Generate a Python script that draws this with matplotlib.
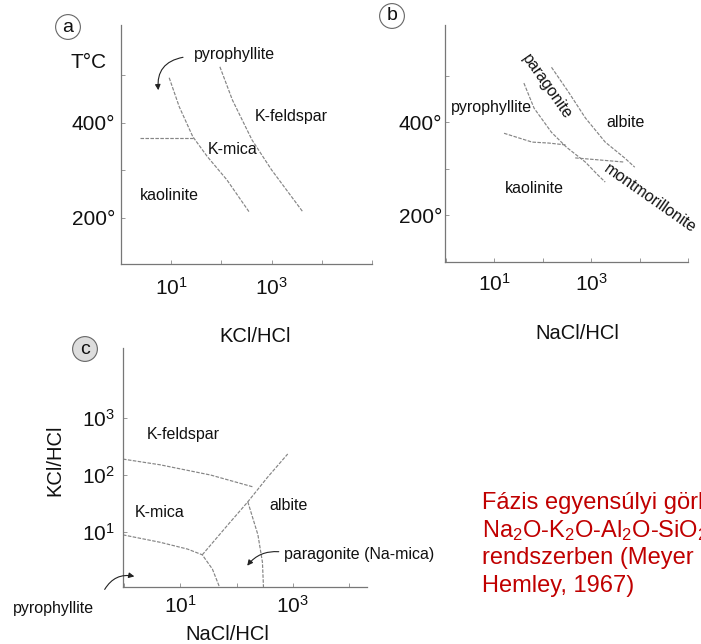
import numpy as np
import matplotlib
matplotlib.use("Agg")
import matplotlib.pyplot as plt

plt.rcParams['font.family'] = ['Liberation Sans', 'DejaVu Sans']
plt.rcParams['mathtext.fontset'] = 'custom'
plt.rcParams['mathtext.rm'] = 'Liberation Sans'
plt.rcParams['mathtext.it'] = 'Liberation Sans:italic'
plt.rcParams['mathtext.bf'] = 'Liberation Sans:bold'

# --- data (x values are log10 of the ratio) ---
# panel a: T (°C) vs KCl/HCl
a_kao_pyr_logx = [0.38, 1.43]
a_kao_pyr_t = [368, 368]
a_pyr_kmica_logx = [0.96, 1.16, 1.43, 1.72, 2.11, 2.55]
a_pyr_kmica_t = [495, 434, 371, 329, 280, 213]
a_kmica_kfs_logx = [1.97, 2.22, 2.61, 3.00, 3.62]
a_kmica_kfs_t = [518, 448, 364, 301, 213]

# panel b: T (°C) vs NaCl/HCl
b_kao_pyr_logx = [1.20, 1.78, 2.12, 2.47]
b_kao_pyr_t = [376, 357, 355, 351]
b_pyr_par_logx = [1.61, 1.82, 2.18, 2.49, 2.88, 3.14, 3.29]
b_pyr_par_t = [484, 430, 378, 346, 314, 286, 271]
b_par_alb_logx = [2.18, 2.53, 2.88, 3.29, 3.69, 3.90]
b_par_alb_t = [518, 465, 409, 357, 323, 303]
b_mont_logx = [2.67, 3.69]
b_mont_t = [323, 314]

# panel c: log KCl/HCl vs log NaCl/HCl
c_kfs_kmica_logx = [-0.02, 0.64, 1.54, 2.30]
c_kfs_kmica_logy = [2.28, 2.18, 2.00, 1.79]
c_kmica_pyr_logx = [-0.02, 0.64, 1.13, 1.39, 1.57, 1.71]
c_kmica_pyr_logy = [0.95, 0.82, 0.70, 0.60, 0.35, 0.0]
c_k_na_logx = [1.39, 1.84, 2.20, 2.55, 2.91]
c_k_na_logy = [0.60, 1.12, 1.53, 1.96, 2.37]
c_par_alb_logx = [2.20, 2.38, 2.46, 2.48]
c_par_alb_logy = [1.53, 0.95, 0.47, 0.0]

temp_ticks = [200, 300, 400, 500]
temp_labels = ['200°', '', '400°', '']
ratio_ticks = [1, 10, 100, 1000, 10000, 100000]
ratio_labels = ['', '$10^{1}$', '', '$10^{3}$', '', '']
kcl_ticks = [10, 100, 1000]
kcl_labels = ['$10^{1}$', '$10^{2}$', '$10^{3}$']

caption = ['Fázis egyensúlyi görbék',
           'Na$_2$O-K$_2$O-Al$_2$O-SiO$_2$',
           'rendszerben (Meyer',
           'Hemley, 1967)']

W, H = 701, 644
fig = plt.figure(figsize=(W / 100, H / 100), dpi=100)

def px_axes(left, top, right, bottom):
    return fig.add_axes([left / W, 1 - bottom / H, (right - left) / W, (bottom - top) / H])

txt = '#111111'
line_kw = dict(color='#858585', lw=0.85, ls=(0, (3, 1.2)))

def style(ax):
    for s in ['top', 'right']:
        ax.spines[s].set_visible(False)
    for s in ['left', 'bottom']:
        ax.spines[s].set_color('#777777')
        ax.spines[s].set_linewidth(0.9)
    ax.tick_params(which='major', direction='in', length=3, width=0.6,
                   color='#888888', labelsize=15, labelcolor=txt)
    ax.tick_params(which='minor', length=0)
    ax.set_facecolor('none')

def lx(v):
    return 10 ** np.array(v)

# ---- panel a ----
ax = px_axes(121, 25, 372, 264)
style(ax)
ax.set_xscale('log')
ax.set_xlim(10 ** 0.05, 10 ** 4.92)
ax.set_ylim(103, 606)
ax.plot(lx(a_kao_pyr_logx), a_kao_pyr_t, **line_kw)
ax.plot(lx(a_pyr_kmica_logx), a_pyr_kmica_t, **line_kw)
ax.plot(lx(a_kmica_kfs_logx), a_kmica_kfs_t, **line_kw)
ax.set_xticks(ratio_ticks, ratio_labels)
ax.set_yticks(temp_ticks, temp_labels)
ax.tick_params(axis='x', pad=9)
ax.tick_params(axis='y', pad=4)
ax.set_xlabel('KCl/HCl', fontsize=14.5, color=txt)
ax.xaxis.set_label_coords(0.534, -0.262)
ax.text(10 ** 2.26, 543, 'pyrophyllite', fontsize=11.5, ha='center', va='center', color=txt)
ax.text(10 ** 3.39, 413, 'K-feldspar', fontsize=11.5, ha='center', va='center', color=txt)
ax.text(10 ** 2.22, 343, 'K-mica', fontsize=11.5, ha='center', va='center', color=txt)
ax.text(10 ** 0.96, 248, 'kaolinite', fontsize=11.5, ha='center', va='center', color=txt)
ax.text(-0.13, 0.845, 'T°C', transform=ax.transAxes, fontsize=15, ha='center',
        va='center', color=txt)
ax.annotate('', xy=(10 ** 0.75, 463), xytext=(10 ** 1.29, 539),
            arrowprops=dict(arrowstyle='-|>', color='#222222', lw=0.8,
                            mutation_scale=8, connectionstyle='arc3,rad=0.5'))

# ---- panel b ----
ax = px_axes(445, 25, 688, 262)
style(ax)
ax.set_xscale('log')
ax.set_xlim(10 ** -0.02, 10 ** 4.94)
ax.set_ylim(99, 609)
ax.plot(lx(b_kao_pyr_logx), b_kao_pyr_t, **line_kw)
ax.plot(lx(b_pyr_par_logx), b_pyr_par_t, **line_kw)
ax.plot(lx(b_par_alb_logx), b_par_alb_t, **line_kw)
ax.plot(lx(b_mont_logx), b_mont_t, **line_kw)
ax.set_xticks(ratio_ticks, ratio_labels)
ax.set_yticks(temp_ticks, temp_labels)
ax.tick_params(axis='x', pad=8)
ax.tick_params(axis='y', pad=2)
ax.set_xlabel('NaCl/HCl', fontsize=14.5, color=txt)
ax.xaxis.set_label_coords(0.543, -0.262)
ax.text(10 ** 2.08, 477, 'paragonite', fontsize=11.5, ha='center', va='center',
        rotation=-55, rotation_mode='anchor', color=txt)
ax.text(10 ** 0.94, 432, 'pyrophyllite', fontsize=11.5, ha='center', va='center', color=txt)
ax.text(10 ** 3.71, 400, 'albite', fontsize=11.5, ha='center', va='center', color=txt)
ax.text(10 ** 1.82, 258, 'kaolinite', fontsize=11.5, ha='center', va='center', color=txt)
ax.text(10 ** 4.22, 236, 'montmorillonite', fontsize=11.5, ha='center', va='center',
        rotation=-35, rotation_mode='anchor', color=txt, clip_on=False)

# ---- panel c ----
ax = px_axes(123, 348, 367, 587)
style(ax)
ax.set_xscale('log')
ax.set_yscale('log')
ax.set_xlim(10 ** -0.02, 10 ** 4.32)
ax.set_ylim(10 ** 0.035, 10 ** 4.23)
ax.plot(lx(c_kfs_kmica_logx), lx(c_kfs_kmica_logy), **line_kw)
ax.plot(lx(c_kmica_pyr_logx), lx(c_kmica_pyr_logy), **line_kw)
ax.plot(lx(c_k_na_logx), lx(c_k_na_logy), **line_kw)
ax.plot(lx(c_par_alb_logx), lx(c_par_alb_logy), **line_kw)
ax.set_xticks(ratio_ticks[:5], ratio_labels[:5])
ax.set_yticks(kcl_ticks, kcl_labels)
ax.tick_params(axis='x', pad=6)
ax.tick_params(axis='y', pad=6)
ax.set_xlabel('NaCl/HCl', fontsize=14.5, color=txt)
ax.xaxis.set_label_coords(0.426, -0.157)
ax.set_ylabel('KCl/HCl', fontsize=14.5, color=txt)
ax.yaxis.set_label_coords(-0.242, 0.53)
ax.text(10 ** 1.05, 10 ** 2.72, 'K-feldspar', fontsize=11.5, ha='center', va='center', color=txt)
ax.text(10 ** 0.64, 10 ** 1.35, 'K-mica', fontsize=11.5, ha='center', va='center', color=txt)
ax.text(10 ** 2.93, 10 ** 1.47, 'albite', fontsize=11.5, ha='center', va='center', color=txt)
ax.text(10 ** 2.84, 10 ** 0.61, 'paragonite (Na-mica)', fontsize=11.5, ha='left',
        va='center', color=txt, clip_on=False)
ax.text(10 ** -1.25, 10 ** -0.35, 'pyrophyllite', fontsize=11.5, ha='center',
        va='center', color=txt, clip_on=False)
ax.annotate('', xy=(10 ** 0.23, 10 ** 0.21), xytext=(10 ** -0.37, 10 ** -0.05),
            annotation_clip=False,
            arrowprops=dict(arrowstyle='-|>', color='#222222', lw=0.8,
                            mutation_scale=8, connectionstyle='arc3,rad=-0.4'))
ax.annotate('', xy=(10 ** 2.16, 10 ** 0.37), xytext=(10 ** 2.80, 10 ** 0.65),
            arrowprops=dict(arrowstyle='-|>', color='#222222', lw=0.8,
                            mutation_scale=8, connectionstyle='arc3,rad=0.3'))

# circled panel letters
for (x, y, s, fc) in [(68, 27, 'a', 'white'), (392, 16, 'b', 'white'), (85, 349, 'c', '#dddddd')]:
    fig.text(x / W, 1 - y / H, s, fontsize=14, ha='center', va='center', color=txt,
             bbox=dict(boxstyle='circle,pad=0.2', fc=fc, ec='#666666', lw=0.8))

# caption in red (runs off the right edge, as in the original slide)
for i, line in enumerate(caption):
    fig.text(482 / W, 1 - (509 + 27.7 * i) / H, line, fontsize=17, color='#c00000',
             ha='left', va='baseline')

fig.savefig('out.png', dpi=100)
